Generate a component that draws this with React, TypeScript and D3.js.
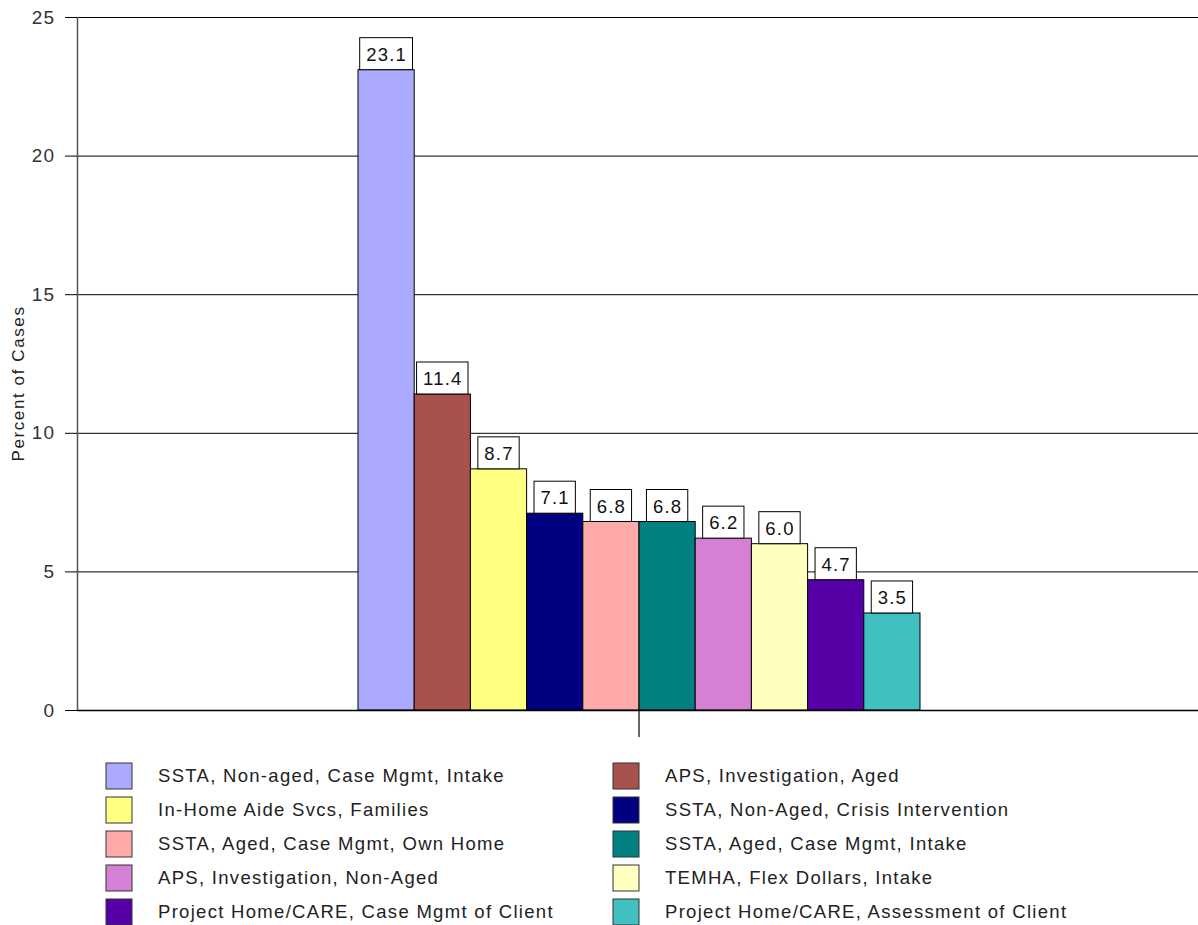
import React, { useEffect, useRef } from "react";
import * as d3 from "d3";

const categories = [
  "SSTA, Non-aged, Case Mgmt, Intake",
  "APS, Investigation, Aged",
  "In-Home Aide Svcs, Families",
  "SSTA, Non-Aged, Crisis Intervention",
  "SSTA, Aged, Case Mgmt, Own Home",
  "SSTA, Aged, Case Mgmt, Intake",
  "APS, Investigation, Non-Aged",
  "TEMHA, Flex Dollars, Intake",
  "Project Home/CARE, Case Mgmt of Client",
  "Project Home/CARE, Assessment of Client",
];
const values = [23.1, 11.4, 8.7, 7.1, 6.8, 6.8, 6.2, 6.0, 4.7, 3.5];
const colors = [
  "#AAAAFF", "#A8524F", "#FFFF80", "#000080", "#FFAAAA",
  "#008080", "#D580D5", "#FFFFC0", "#5600A8", "#40C0C0",
];
const yTicks = [0, 5, 10, 15, 20, 25];
const yTitle = "Percent of Cases";

const W = 1198, H = 925;
const M = { left: 77, right: 1201, top: 17, bottom: 710 };
const FONT = "'Liberation Sans', Arial, sans-serif";

export default function App() {
  const ref = useRef<SVGSVGElement>(null);
  useEffect(() => {
    const svg = d3.select(ref.current);
    svg.selectAll("*").remove();
    const y = d3.scaleLinear().domain([0, 25]).range([M.bottom, M.top]);
    const outer = d3.scaleBand().domain(["g"]).range([M.left, M.right]).paddingInner(0).paddingOuter(0.5);
    const x = d3.scaleBand().domain(categories).range([outer("g")!, outer("g")! + outer.bandwidth()]).padding(0);

    // gridlines
    svg.append("g").selectAll("line").data(yTicks).join("line")
      .attr("x1", M.left).attr("x2", W)
      .attr("y1", d => y(d) + 0.5).attr("y2", d => y(d) + 0.5)
      .attr("stroke", "#000").attr("stroke-width", 1);

    // y axis
    svg.append("line").attr("x1", M.left + 0.5).attr("x2", M.left + 0.5)
      .attr("y1", M.top).attr("y2", M.bottom).attr("stroke", "#555").attr("stroke-width", 1.5);
    const tg = svg.append("g");
    tg.selectAll("line").data(yTicks).join("line")
      .attr("x1", 65).attr("x2", M.left).attr("y1", d => y(d) + 0.5).attr("y2", d => y(d) + 0.5)
      .attr("stroke", "#000");
    tg.selectAll("text").data(yTicks).join("text")
      .attr("x", 55).attr("y", d => y(d)).attr("dy", "0.35em")
      .attr("text-anchor", "end").attr("font-family", FONT).attr("font-size", 19).attr("letter-spacing", 1).attr("fill", "#333")
      .text(d => String(d));

    svg.append("text")
      .attr("transform", `translate(24,${(M.top + M.bottom) / 2 + 20}) rotate(-90)`)
      .attr("text-anchor", "middle").attr("font-family", FONT).attr("font-size", 17).attr("letter-spacing", 1.6).attr("fill", "#222")
      .text(yTitle);

    // bars
    svg.append("g").selectAll("rect").data(values).join("rect")
      .attr("x", (d, i) => x(categories[i])!)
      .attr("y", d => y(d))
      .attr("width", x.bandwidth())
      .attr("height", d => M.bottom - y(d))
      .attr("fill", (d, i) => colors[i])
      .attr("stroke", "#000").attr("stroke-width", 1);

    // baseline redraw
    svg.append("line").attr("x1", M.left).attr("x2", W)
      .attr("y1", M.bottom + 0.5).attr("y2", M.bottom + 0.5).attr("stroke", "#000").attr("stroke-width", 1.5);
    // category tick
    const cx = outer("g")! + outer.bandwidth() / 2;
    svg.append("line").attr("x1", cx).attr("x2", cx).attr("y1", M.bottom).attr("y2", 737)
      .attr("stroke", "#000").attr("stroke-width", 1.2);

    // value labels
    const lg = svg.append("g");
    values.forEach((v, i) => {
      const bx = x(categories[i])! + x.bandwidth() / 2;
      const top = y(v);
      const g = lg.append("g");
      const rect = g.append("rect").attr("fill", "#fff").attr("stroke", "#000").attr("stroke-width", 1);
      const t = g.append("text").attr("x", bx + 0.5).attr("y", top - 9)
        .attr("text-anchor", "middle").attr("font-family", FONT).attr("font-size", 18.5)
        .attr("letter-spacing", 1.2).attr("fill", "#111").text(v.toFixed(1));
      const tw = (t.node() as SVGTextElement).getComputedTextLength();
      const bw = tw + 12;
      rect.attr("x", bx - bw / 2).attr("y", top - 32).attr("width", bw).attr("height", 32);
    });

    // legend
    const leg = svg.append("g");
    categories.forEach((c, i) => {
      const col = i % 2, row = Math.floor(i / 2);
      const sx = col === 0 ? 106 : 613;
      const tx = col === 0 ? 158 : 665;
      const cy = 776 + row * 34;
      leg.append("rect").attr("x", sx).attr("y", cy - 13).attr("width", 26).attr("height", 26)
        .attr("fill", colors[i]).attr("stroke", "#333").attr("stroke-width", 1);
      leg.append("text").attr("x", tx).attr("y", cy).attr("dy", "0.35em")
        .attr("font-family", FONT).attr("font-size", 18.5).attr("letter-spacing", 1.3).attr("fill", "#222").text(c);
    });
  }, []);
  return (
    <svg ref={ref} width={W} height={H} style={{ position: "absolute", left: 0, top: 0, background: "#fff" }} />
  );
}
